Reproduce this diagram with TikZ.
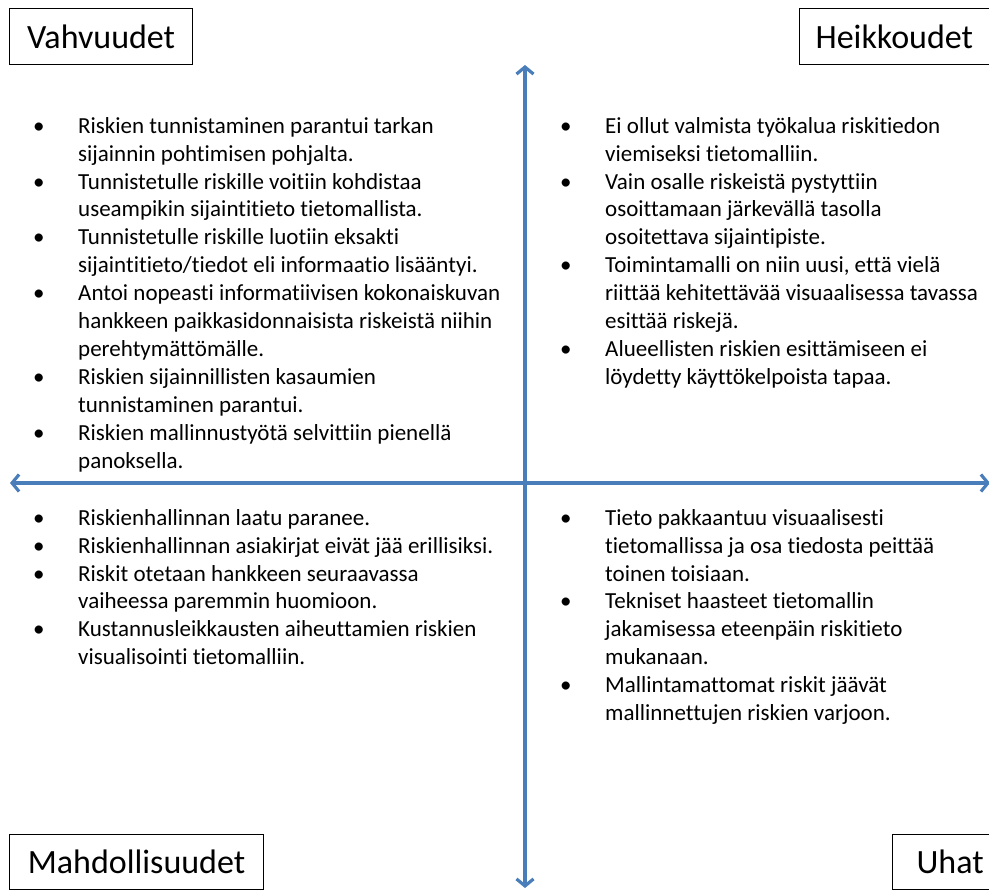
\documentclass[tikz,border=0pt]{standalone}
\usepackage{fontspec}
\setmainfont[Ligatures=NoCommon]{Carlito}
\usetikzlibrary{arrows.meta}
\definecolor{axisblue}{RGB}{74,126,187}
\tikzset{
  axis/.style={draw=axisblue, line width=3.2pt,
    {Straight Barb[length=7pt,width=17pt]}-{Straight Barb[length=7pt,width=17pt]}},
  caption/.style={draw=black, line width=1.2pt, inner ysep=0pt,
    font=\fontsize{34}{40}\selectfont, anchor=north west},
  quad/.style={inner sep=0pt, anchor=north west, align=left,
    font=\fontsize{23}{27.9}\selectfont}
}
\begin{document}
\begin{tikzpicture}[x=1pt,y=-1pt]
\useasboundingbox (0,0) rectangle (989,890);

% axes
\coordinate (n) at (525,65);
\coordinate (s) at (525,888);
\coordinate (w) at (10,483);
\coordinate (e) at (990,483);
\draw[axis] (s) -- (n);
\draw[axis] (w) -- (e);

% quadrant captions
\node[caption, minimum width=183pt, minimum height=56pt] (vahv) at (9,8) {Vahvuudet};
\node[caption, minimum height=56pt, inner xsep=16pt, text width=180pt] (heik) at (799,8) {Heikkoudet};
\node[caption, minimum width=254pt, minimum height=55pt] (mahd) at (9,834) {Mahdollisuudet};
\node[caption, minimum height=55pt, inner xsep=24pt, text width=100pt] (uhat) at (892,834) {Uhat};

% strengths
\node[quad] (tl) at (33,113.5) {\begin{tabular}{@{}p{45pt}@{}l@{}}
• & Riskien tunnistaminen parantui tarkan\\
  & sijainnin pohtimisen pohjalta.\\
• & Tunnistetulle riskille voitiin kohdistaa\\
  & useampikin sijaintitieto tietomallista.\\
• & Tunnistetulle riskille luotiin eksakti\\
  & sijaintitieto/tiedot eli informaatio lisääntyi.\\
• & Antoi nopeasti informatiivisen kokonaiskuvan\\
  & hankkeen paikkasidonnaisista riskeistä niihin\\
  & perehtymättömälle.\\
• & Riskien sijainnillisten kasaumien\\
  & tunnistaminen parantui.\\
• & Riskien mallinnustyötä selvittiin pienellä\\
  & panoksella.
\end{tabular}};

% weaknesses
\node[quad] (tr) at (560,113.5) {\begin{tabular}{@{}p{45pt}@{}l@{}}
• & Ei ollut valmista työkalua riskitiedon\\
  & viemiseksi tietomalliin.\\
• & Vain osalle riskeistä pystyttiin\\
  & osoittamaan järkevällä tasolla\\
  & osoitettava sijaintipiste.\\
• & Toimintamalli on niin uusi, että vielä\\
  & riittää kehitettävää visuaalisessa tavassa\\
  & esittää riskejä.\\
• & Alueellisten riskien esittämiseen ei\\
  & löydetty käyttökelpoista tapaa.
\end{tabular}};

% opportunities
\node[quad] (bl) at (33,505.5) {\begin{tabular}{@{}p{45pt}@{}l@{}}
• & Riskienhallinnan laatu paranee.\\
• & Riskienhallinnan asiakirjat eivät jää erillisiksi.\\
• & Riskit otetaan hankkeen seuraavassa\\
  & vaiheessa paremmin huomioon.\\
• & Kustannusleikkausten aiheuttamien riskien\\
  & visualisointi tietomalliin.
\end{tabular}};

% threats
\node[quad] (br) at (560,505.5) {\begin{tabular}{@{}p{45pt}@{}l@{}}
• & Tieto pakkaantuu visuaalisesti\\
  & tietomallissa ja osa tiedosta peittää\\
  & toinen toisiaan.\\
• & Tekniset haasteet tietomallin\\
  & jakamisessa eteenpäin riskitieto\\
  & mukanaan.\\
• & Mallintamattomat riskit jäävät\\
  & mallinnettujen riskien varjoon.
\end{tabular}};
\end{tikzpicture}
\end{document}
